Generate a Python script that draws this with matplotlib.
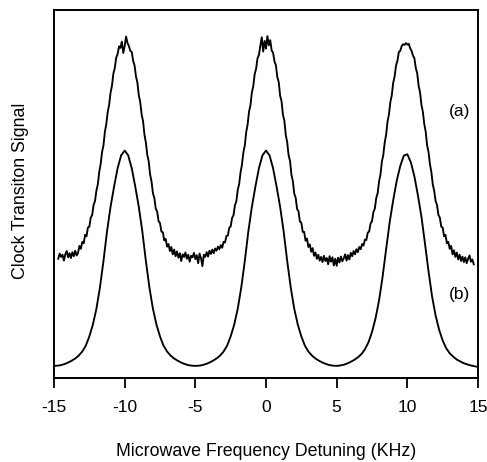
import numpy as np
import matplotlib
matplotlib.use("Agg")
import matplotlib.pyplot as plt

plt.rcParams['font.family'] = ['Liberation Sans', 'DejaVu Sans']

#====================== curve (a): measured signal, 0.1 KHz steps from -14.7 to 14.7
x_a = np.round(np.arange(-147, 148) / 10.0, 1)
y_a = [32.4, 33.8, 32.9, 33.5, 31.9, 33.6, 34.5, 32.8, 33.9, 32.6,
       34.2, 33.1, 34.6, 33.3, 34.0, 35.9, 35.1, 37.0, 36.6, 38.9,
       38.5, 40.9, 41.1, 43.6, 44.3, 47.0, 48.1, 50.9, 52.6, 56.0,
       58.1, 61.4, 63.2, 66.9, 69.0, 72.3, 74.2, 77.5, 79.4, 82.7,
       84.2, 87.0, 88.0, 90.1, 89.7, 91.4, 88.3, 90.2, 92.8, 91.0,
       90.2, 88.9, 88.6, 86.2, 84.9, 81.9, 80.3, 76.8, 75.0, 71.6,
       69.8, 66.1, 64.0, 60.6, 58.9, 55.3, 53.4, 50.2, 48.9, 46.0,
       45.2, 42.6, 42.1, 39.8, 39.6, 37.4, 37.8, 35.7, 36.4, 34.5,
       35.6, 33.6, 34.9, 33.1, 34.4, 32.7, 33.9, 31.8, 33.6, 32.9,
       34.1, 32.4, 33.5, 31.6, 33.2, 32.8, 34.0, 32.3, 33.4, 31.2,
       33.8, 32.6, 30.4, 33.5, 32.9, 34.2, 33.0, 34.6, 33.7, 34.9,
       33.9, 35.2, 34.6, 35.7, 35.0, 36.1, 35.4, 37.0, 36.8, 38.6,
       38.7, 40.8, 41.2, 43.5, 44.2, 46.9, 48.0, 51.1, 52.7, 55.9,
       58.0, 61.3, 63.2, 66.8, 68.9, 72.4, 74.1, 77.6, 79.3, 82.6,
       84.0, 86.9, 87.8, 90.3, 92.6, 88.7, 91.6, 89.5, 92.9, 90.4,
       91.8, 89.0, 88.4, 86.0, 85.0, 81.8, 80.4, 76.7, 75.2, 71.5,
       69.9, 66.0, 64.1, 60.5, 59.0, 55.2, 53.5, 50.1, 49.0, 45.9,
       45.3, 42.5, 42.2, 39.7, 39.7, 37.3, 37.9, 35.6, 36.3, 34.3,
       35.3, 33.2, 34.1, 32.4, 33.5, 31.9, 32.9, 31.5, 33.2, 31.8,
       32.6, 30.9, 33.1, 31.6, 32.8, 30.6, 32.4, 30.5, 32.7, 31.4,
       33.0, 31.7, 32.5, 33.6, 31.9, 33.4, 32.2, 34.0, 33.1, 34.5,
       33.6, 35.0, 34.2, 35.6, 35.0, 36.4, 36.0, 37.6, 37.5, 39.5,
       39.8, 42.0, 42.6, 45.1, 46.0, 48.9, 50.2, 53.4, 55.3, 58.8,
       60.6, 64.0, 66.1, 69.7, 71.6, 75.0, 76.8, 80.2, 81.9, 84.9,
       86.2, 88.6, 88.9, 90.2, 90.7, 90.5, 91.0, 90.6, 90.8, 89.6,
       88.9, 87.6, 86.9, 84.2, 82.8, 79.4, 77.6, 74.2, 72.3, 69.0,
       66.9, 63.2, 61.4, 58.1, 56.0, 52.6, 50.9, 48.1, 47.0, 44.3,
       43.6, 41.1, 40.9, 38.5, 38.9, 36.6, 37.0, 35.1, 35.9, 33.6,
       34.7, 32.9, 34.1, 32.2, 33.5, 31.8, 33.0, 31.5, 32.8, 31.2,
       32.4, 33.3, 31.6, 32.2, 30.9]

#====================== curve (b): calculated lineshape, 0.25 KHz steps from -15 to 15
x_b = np.arange(121) * 0.25 - 15.0
y_b = [3.3, 3.35, 3.5, 3.8, 4.2, 4.7, 5.3, 6.1, 7.2, 8.8,
       11.3, 14.5, 18.8, 24.6, 31.8, 39.8, 46.5, 52.0, 57.0, 60.5,
       61.8, 60.5, 57.0, 52.0, 46.5, 39.8, 31.8, 24.6, 18.8, 14.5,
       11.3, 8.8, 7.2, 6.1, 5.3, 4.7, 4.2, 3.8, 3.5, 3.35,
       3.3, 3.35, 3.5, 3.8, 4.2, 4.7, 5.3, 6.1, 7.2, 8.8,
       11.3, 14.5, 18.8, 24.6, 31.8, 39.8, 46.5, 52.0, 57.0, 60.5,
       61.8, 60.5, 57.0, 52.0, 46.5, 39.8, 31.8, 24.6, 18.8, 14.5,
       11.3, 8.8, 7.2, 6.1, 5.3, 4.7, 4.2, 3.8, 3.5, 3.35,
       3.3, 3.4, 3.6, 3.95, 4.4, 4.95, 5.6, 6.5, 7.8, 9.7,
       12.5, 16.2, 21.1, 27.5, 35.0, 42.3, 48.3, 53.6, 57.6, 60.4,
       60.8, 58.6, 54.8, 49.6, 43.8, 36.5, 29.0, 22.2, 17.0, 13.1,
       10.2, 8.1, 6.7, 5.8, 5.0, 4.5, 4.0, 3.7, 3.4, 3.2,
       3.0]

xticks = [-15, -10, -5, 0, 5, 10, 15]
xtick_labels = ['-15', '-10', '-5', '0', '5', '10', '15']

fig = plt.figure(figsize=(4.87, 4.62), dpi=100)
ax = fig.add_axes([0.1109, 0.1818, 0.8706, 0.7966])

ax.plot(x_a, y_a, color='k', linewidth=1.35)
ax.plot(x_b, y_b, color='k', linewidth=1.35)

ax.set_xlim(-15, 15)
ax.set_ylim(0, 100)
ax.set_xticks(xticks)
ax.set_xticklabels(xtick_labels)
ax.set_yticks([])
ax.tick_params(axis='x', direction='out', length=7, width=1.3, pad=9, labelsize=12.5)
for s in ax.spines.values():
    s.set_linewidth(1.4)

ax.text(0.957, 0.723, '(a)', transform=ax.transAxes, fontsize=12.5, ha='center', va='center')
ax.text(0.957, 0.226, '(b)', transform=ax.transAxes, fontsize=12.5, ha='center', va='center')

ax.set_xlabel('Microwave Frequency Detuning (KHz)', fontsize=12.8)
ax.xaxis.set_label_coords(0.5, -0.201)
ax.xaxis.label.set_va('center')
ax.set_ylabel('Clock Transiton Signal', fontsize=12.8)
ax.yaxis.set_label_coords(-0.08, 0.51)
ax.yaxis.label.set_va('center')

plt.savefig("out.png", dpi=100)
